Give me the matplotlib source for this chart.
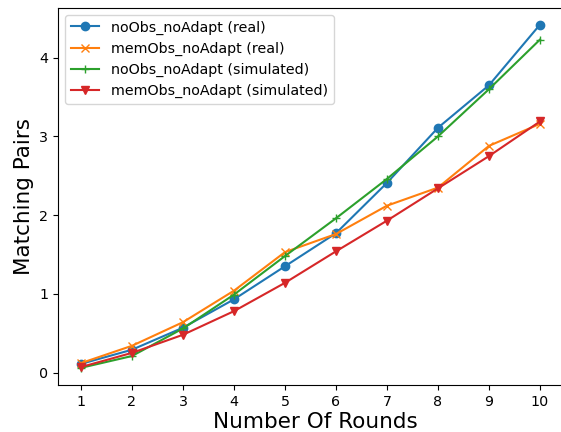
import matplotlib
matplotlib.use("Agg")
import matplotlib.pyplot as plt

rounds = [1, 2, 3, 4, 5, 6, 7, 8, 9, 10]
noobs_real = [0.11, 0.29, 0.57, 0.93, 1.35, 1.77, 2.41, 3.11, 3.65, 4.42]
memobs_real = [0.12, 0.34, 0.64, 1.04, 1.53, 1.76, 2.12, 2.35, 2.88, 3.16]
noobs_sim = [0.06, 0.21, 0.56, 0.99, 1.48, 1.96, 2.46, 3.00, 3.60, 4.23]
memobs_sim = [0.07, 0.25, 0.48, 0.78, 1.14, 1.54, 1.93, 2.34, 2.75, 3.19]

plt.rcParams['font.size'] = 10.3
fig = plt.figure(figsize=(5.61, 4.32), dpi=100)
ax = fig.add_axes([58/561, (432-385)/432, 514/561, (385-7.5)/432])
ax.plot(rounds, noobs_real, marker='o', label='noObs_noAdapt (real)')
ax.plot(rounds, memobs_real, marker='x', label='memObs_noAdapt (real)')
ax.plot(rounds, noobs_sim, marker='+', label='noObs_noAdapt (simulated)')
ax.plot(rounds, memobs_sim, marker='v', label='memObs_noAdapt (simulated)')
ax.set_xticks(rounds)
ax.set_xlim(0.55, 0.55 + 514/51)
ax.set_xlabel('Number Of Rounds', fontsize=15.5, labelpad=2)
ax.set_ylabel('Matching Pairs', fontsize=15.5)
ax.legend(loc='upper left')
fig.savefig('out.png', dpi=100)
